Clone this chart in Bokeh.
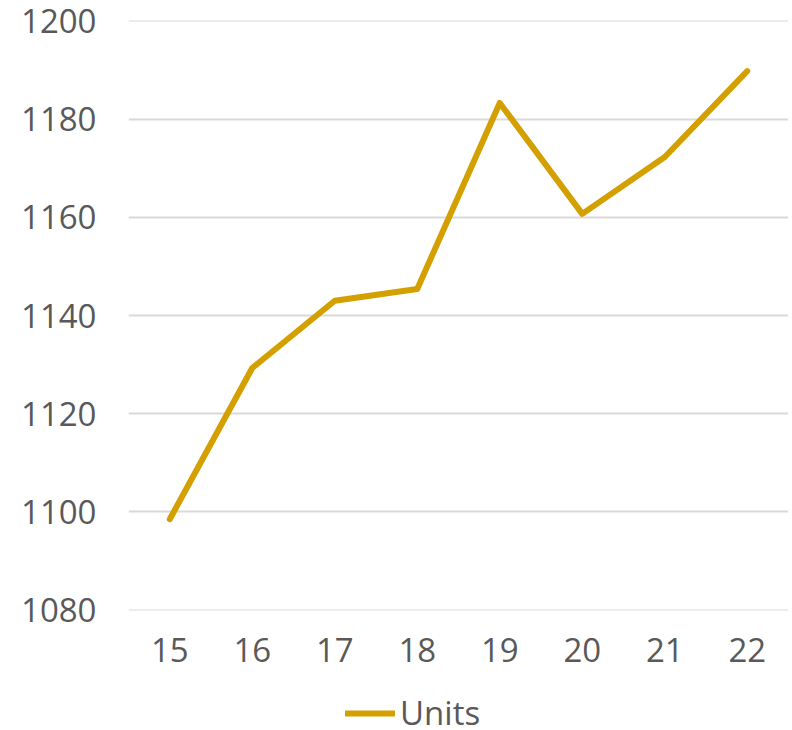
from bokeh.plotting import figure
from bokeh.layouts import column
from bokeh.models import Range1d, FixedTicker, Legend, LegendItem
from bokeh.embed import file_html
from bokeh.resources import INLINE

years = [15, 16, 17, 18, 19, 20, 21, 22]
units = [1098.5, 1129.3, 1143.0, 1145.4, 1183.3, 1160.7, 1172.3, 1189.8]
y_ticks = [1080, 1100, 1120, 1140, 1160, 1180, 1200]
series_name = "Units"

LINE_COLOR = "#D4A000"
TEXT_COLOR = "#595959"
font = "Open Sans"

p = figure(frame_width=660, frame_height=590, output_backend="svg", toolbar_location=None,
           x_range=Range1d(14.5, 22.5), y_range=Range1d(1079.9, 1200.1),
           min_border_left=128, min_border_right=0, min_border_top=20,
           min_border_bottom=70, outline_line_color=None)

p.line(years, units, line_color=LINE_COLOR, line_width=6, line_cap="round", line_join="round")

p.xaxis.ticker = FixedTicker(ticks=years)
p.yaxis.ticker = FixedTicker(ticks=y_ticks)
for ax in (p.xaxis[0], p.yaxis[0]):
    ax.axis_line_color = None
    ax.major_tick_line_color = None
    ax.minor_tick_line_color = None
    ax.major_label_text_font = font
    ax.major_label_text_font_size = "33px"
    ax.major_label_text_color = TEXT_COLOR
p.xaxis.major_label_standoff = 21
p.yaxis.major_label_standoff = 26
p.xgrid.grid_line_color = None
p.ygrid.grid_line_color = "#D9D9D9"
p.ygrid.grid_line_width = 2

# legend strip below the chart; the series is drawn out of its view so only the legend shows
lg = figure(width=788, height=50, output_backend="svg", toolbar_location=None,
            x_axis_type=None, y_axis_type=None,
            x_range=Range1d(0, 1), y_range=Range1d(0, 1),
            min_border=0, outline_line_color=None)
lg.grid.visible = False
proxy = lg.line(years, units, line_color=LINE_COLOR, line_width=6, line_cap="round")
legend = Legend(items=[LegendItem(label=series_name, renderers=[proxy])],
                location=(217, -5), orientation="horizontal",
                label_text_font=font, label_text_font_size="33px",
                label_text_color=TEXT_COLOR, glyph_width=50, glyph_height=20,
                label_height=20, label_standoff=5, border_line_color=None,
                background_fill_alpha=0, padding=0, margin=0)
lg.add_layout(legend, "center")

layout = column(p, lg, spacing=0)
open("out.html", "w").write(file_html(layout, INLINE))
